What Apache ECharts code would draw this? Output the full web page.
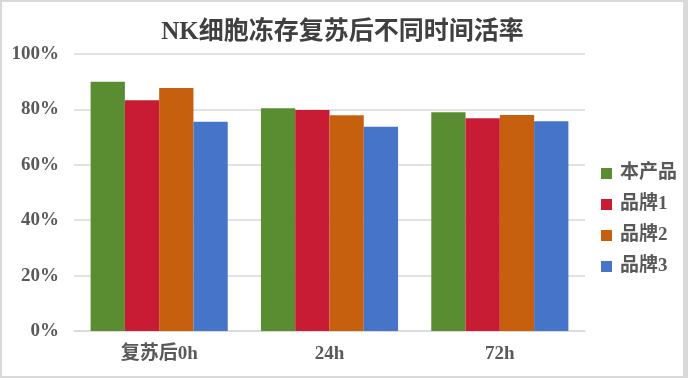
<!DOCTYPE html>
<html>
<head>
<meta charset="utf-8">
<script src="https://cdn.jsdelivr.net/npm/echarts@6/dist/echarts.min.js"></script>
<style>
html,body{margin:0;padding:0;background:#fff;}
#c{width:688px;height:378px;box-sizing:border-box;border:2px solid #d9d9d9;border-right-width:5px;}
</style>
</head>
<body>
<div id="c"></div>
<script>
const categories = ['复苏后0h', '24h', '72h'];
const seriesNames = ['本产品', '品牌1', '品牌2', '品牌3'];
const s0 = [90.0, 80.4, 79.0];
const s1 = [83.3, 79.8, 76.8];
const s2 = [87.7, 77.9, 78.0];
const s3 = [75.5, 73.7, 75.7];
const yTicks = [0, 20, 40, 60, 80, 100];
const colors = ['#5a8c32', '#c81c34', '#c6600f', '#4674c8'];
const values = [s0, s1, s2, s3];

const font = "'Liberation Serif', 'DejaVu Serif', 'Noto Sans CJK SC', serif";
const chart = echarts.init(document.getElementById('c'));
chart.setOption({
  animation: false,
  title: {
    text: 'NK细胞冻存复苏后不同时间活率',
    left: 'center',
    top: 13,
    textStyle: {fontFamily: font, fontSize: 25, fontWeight: 'bold', color: '#404040'}
  },
  legend: {
    orient: 'vertical',
    left: 594,
    top: 157,
    itemWidth: 11,
    itemHeight: 11,
    itemGap: 12,
    icon: 'rect',
    data: seriesNames,
    textStyle: {fontFamily: font, fontSize: 19, fontWeight: 'bold', color: '#595959', padding: [0,0,0,3]}
  },
  grid: {left: 72, right: 98, top: 52, bottom: 45, containLabel: false},
  xAxis: {
    type: 'category',
    data: categories,
    axisTick: {show: false},
    axisLine: {lineStyle: {color: '#d9d9d9', width: 1.5}},
    axisLabel: {fontFamily: font, fontSize: 19, fontWeight: 'bold', color: '#595959', margin: 14}
  },
  yAxis: {
    type: 'value',
    min: 0, max: 100, interval: 20,
    axisLine: {show: false},
    axisTick: {show: false},
    splitLine: {lineStyle: {color: '#d9d9d9', width: 1.5}},
    axisLabel: {
      fontFamily: font, fontSize: 19, fontWeight: 'bold', color: '#595959', margin: 15,
      formatter: v => yTicks.includes(v) ? v + '%' : ''
    }
  },
  series: seriesNames.map((n, i) => ({
    name: n,
    type: 'bar',
    data: values[i],
    barGap: '0%',
    barCategoryGap: '19.5%',
    itemStyle: {color: colors[i]}
  }))
});
</script>
</body>
</html>
